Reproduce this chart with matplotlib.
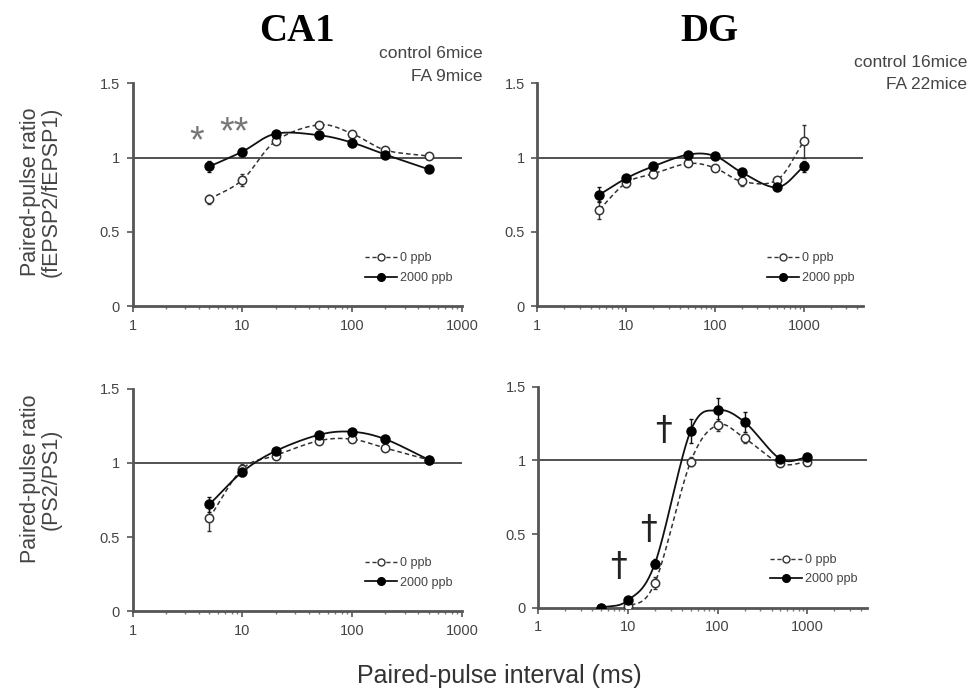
import numpy as np
import matplotlib.pyplot as plt
from matplotlib.lines import Line2D

plt.rcParams['font.family'] = ['Liberation Sans', 'DejaVu Sans']

# intervals (ms)
x_ca1 = [5, 10, 20, 50, 100, 200, 500]
x_dg = [5, 10, 20, 50, 100, 200, 500, 1000]

# CA1 fEPSP2/fEPSP1
ca1_fepsp_ctl = [0.72, 0.85, 1.11, 1.22, 1.16, 1.05, 1.01]
ca1_fepsp_ctl_err = [0.03, 0.04, 0.02, 0.02, 0.02, 0.02, 0.02]
ca1_fepsp_fa = [0.94, 1.04, 1.16, 1.15, 1.10, 1.02, 0.92]
ca1_fepsp_fa_err = [0.04, 0.02, 0.02, 0.02, 0.02, 0.02, 0.02]

# DG fEPSP2/fEPSP1
dg_fepsp_ctl = [0.65, 0.83, 0.89, 0.96, 0.93, 0.84, 0.85, 1.11]
dg_fepsp_ctl_err = [0.06, 0.03, 0.03, 0.02, 0.02, 0.03, 0.02, 0.11]
dg_fepsp_fa = [0.75, 0.86, 0.94, 1.02, 1.01, 0.90, 0.80, 0.94]
dg_fepsp_fa_err = [0.05, 0.02, 0.02, 0.02, 0.02, 0.02, 0.02, 0.04]

# CA1 PS2/PS1
ca1_ps_ctl = [0.63, 0.96, 1.05, 1.15, 1.16, 1.10, 1.02]
ca1_ps_ctl_err = [0.09, 0.03, 0.02, 0.02, 0.02, 0.02, 0.01]
ca1_ps_fa = [0.72, 0.94, 1.08, 1.19, 1.21, 1.16, 1.02]
ca1_ps_fa_err = [0.05, 0.03, 0.02, 0.02, 0.02, 0.02, 0.01]

# DG PS2/PS1
dg_ps_ctl = [0.0, 0.01, 0.17, 0.99, 1.24, 1.15, 0.98, 0.99]
dg_ps_ctl_err = [0.0, 0.01, 0.04, 0.03, 0.04, 0.03, 0.02, 0.02]
dg_ps_fa = [0.0, 0.05, 0.30, 1.20, 1.34, 1.26, 1.01, 1.02]
dg_ps_fa_err = [0.0, 0.02, 0.03, 0.08, 0.08, 0.07, 0.02, 0.02]

# significance marks (x, y, text)
ca1_marks = [(3.8, 1.10, '*'), (8.3, 1.16, '**')]
dg_marks = [(7.9, 0.28, '†'), (17.0, 0.53, '†'), (24.7, 1.20, '†')]


def smooth(x, y, n=40):
    # Catmull-Rom curve through the points in log-x space
    pts = np.column_stack([np.log10(x), y])
    p = np.vstack([2 * pts[0] - pts[1], pts, 2 * pts[-1] - pts[-2]])
    t = np.linspace(0, 1, n)[:, None]
    segs = []
    for i in range(1, len(p) - 2):
        p0, p1, p2, p3 = p[i - 1], p[i], p[i + 1], p[i + 2]
        segs.append(0.5 * (2 * p1 + (-p0 + p2) * t
                           + (2 * p0 - 5 * p1 + 4 * p2 - p3) * t ** 2
                           + (-p0 + 3 * p1 - 3 * p2 + p3) * t ** 3))
    c = np.vstack(segs)
    return 10 ** c[:, 0], c[:, 1]


grey = '#444444'
fig = plt.figure(figsize=(9.75, 6.93), dpi=100)
ax_tl = fig.add_axes([0.136, 0.558, 0.338, 0.322])
ax_tr = fig.add_axes([0.551, 0.558, 0.334, 0.322])
ax_bl = fig.add_axes([0.136, 0.118, 0.338, 0.321])
ax_br = fig.add_axes([0.552, 0.123, 0.337, 0.319])

panels = [
    (ax_tl, x_ca1, ca1_fepsp_ctl, ca1_fepsp_ctl_err, ca1_fepsp_fa, ca1_fepsp_fa_err, 1000),
    (ax_tr, x_dg, dg_fepsp_ctl, dg_fepsp_ctl_err, dg_fepsp_fa, dg_fepsp_fa_err, 4600),
    (ax_bl, x_ca1, ca1_ps_ctl, ca1_ps_ctl_err, ca1_ps_fa, ca1_ps_fa_err, 1000),
    (ax_br, x_dg, dg_ps_ctl, dg_ps_ctl_err, dg_ps_fa, dg_ps_fa_err, 4600),
]

for ax, x, yc, ec, yf, ef, xmax in panels:
    ax.set_xscale('log')
    ax.set_xlim(1, xmax)
    ax.set_ylim(0, 1.5)
    ax.axhline(1, color='#333333', lw=1.2, zorder=1)

    sx, sy = smooth(x, yc)
    ax.plot(sx, sy, color='#333333', lw=1.1, ls=(0, (3, 2)), zorder=2)
    sx, sy = smooth(x, yf)
    ax.plot(sx, sy, color='#111111', lw=1.3, zorder=2)

    ax.errorbar(x, yc, yerr=ec, fmt='none', ecolor='#333333', elinewidth=1, capsize=1.5, zorder=3)
    ax.errorbar(x, yf, yerr=ef, fmt='none', ecolor='#111111', elinewidth=1, capsize=1.5, zorder=3)
    ax.plot(x, yc, 'o', ms=6, mfc='white', mec='#333333', mew=1.1, ls='none', zorder=4)
    ax.plot(x, yf, 'o', ms=6.5, mfc='black', mec='black', ls='none', zorder=5)

    for s in ['top', 'right']:
        ax.spines[s].set_visible(False)
    for s in ['left', 'bottom']:
        ax.spines[s].set_color('#555555')
        ax.spines[s].set_linewidth(2)
    ax.set_yticks([0, 0.5, 1, 1.5])
    ax.set_yticklabels(['0', '0.5', '1', '1.5'])
    ax.set_xticks([1, 10, 100, 1000])
    ax.set_xticklabels(['1', '10', '100', '1000'])
    ax.tick_params(which='major', length=4, width=1.2, color='#555555', labelcolor=grey,
                   labelsize=10.5, pad=5)
    ax.tick_params(which='minor', length=2.5, width=1, color='#777777')

    handles = [Line2D([0], [0], color='#333333', lw=1, ls=(0, (3, 2)), marker='o', ms=5,
                      mfc='white', mec='#333333'),
               Line2D([0], [0], color='black', lw=1.2, marker='o', ms=5.5, mfc='black')]
    ax.legend(handles, ['0 ppb', '2000 ppb'], loc='lower left', bbox_to_anchor=(0.67, 0.05),
              frameon=False, fontsize=9, handlelength=2.6, handletextpad=0.2,
              labelspacing=0.6, labelcolor=grey)

for xm, ym, s in ca1_marks:
    ax_tl.text(xm, ym, s, ha='center', va='center', fontsize=27, color='#777777')
for xm, ym, s in dg_marks:
    ax_br.text(xm, ym, s, ha='center', va='center', fontsize=24, color='#222222',
               family='DejaVu Sans')

fig.text(0.305, 0.955, 'CA1', ha='center', va='center', fontsize=28, fontweight='bold',
         family='Liberation Serif')
fig.text(0.728, 0.955, 'DG', ha='center', va='center', fontsize=28, fontweight='bold',
         family='Liberation Serif')

fig.text(0.495, 0.923, 'control 6mice', ha='right', va='center', fontsize=12.5, color=grey)
fig.text(0.495, 0.890, 'FA 9mice', ha='right', va='center', fontsize=12.5, color=grey)
fig.text(0.992, 0.910, 'control 16mice', ha='right', va='center', fontsize=12.5, color=grey)
fig.text(0.992, 0.878, 'FA 22mice', ha='right', va='center', fontsize=12.5, color=grey)

fig.text(0.042, 0.723, 'Paired-pulse ratio\n(fEPSP2/fEPSP1)', ha='center', va='center',
         rotation=90, fontsize=15.5, color=grey, linespacing=1.0)
fig.text(0.042, 0.309, 'Paired-pulse ratio\n(PS2/PS1)', ha='center', va='center',
         rotation=90, fontsize=15.5, color=grey, linespacing=1.0)
fig.text(0.512, 0.025, 'Paired-pulse interval (ms)', ha='center', va='center',
         fontsize=18, color='#333333')

fig.savefig('out.png', dpi=100)
